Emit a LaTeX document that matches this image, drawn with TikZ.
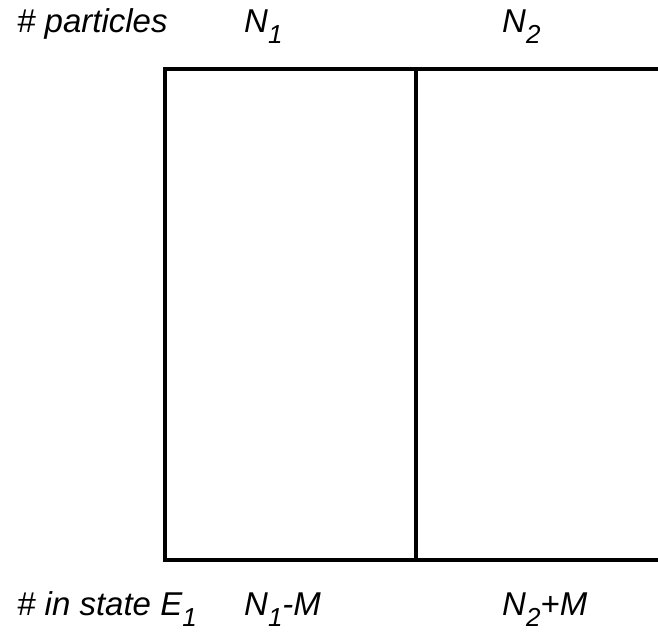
\documentclass[tikz,border=0pt]{standalone}
\usepackage{fontspec}
\setmainfont{Liberation Sans}
\newcommand{\lsub}[1]{\raisebox{-11pt}[0pt][11pt]{\fontsize{26}{26}\selectfont #1}}
\begin{document}
\begin{tikzpicture}[x=1pt,y=-1pt,
  lbl/.style={anchor=base west,inner sep=0pt,font=\fontsize{33}{38}\selectfont\itshape},
  wall/.style={line width=4pt,line join=miter}]
\useasboundingbox (0,0) rectangle (658,634);
\coordinate (tr) at (662,69);
\coordinate (tl) at (165,69);
\coordinate (bl) at (165,560);
\coordinate (br) at (662,560);
\coordinate (mt) at (416,69);
\coordinate (mb) at (416,560);
\draw[wall] (tr) -- (tl) -- (bl) -- (br);
\draw[wall] (mt) -- (mb);
\node[lbl] (p) at (17,33) {\# particles};
\node[lbl] (n1) at (244,33) {N\lsub{1}};
\node[lbl] (n2) at (502,33) {N\lsub{2}};
\node[lbl] (s) at (17,615) {\# in state E\lsub{1}};
\node[lbl] (m1) at (244,615) {N\lsub{1}-M};
\node[lbl] (m2) at (502,615) {N\lsub{2}+M};
\end{tikzpicture}
\end{document}
